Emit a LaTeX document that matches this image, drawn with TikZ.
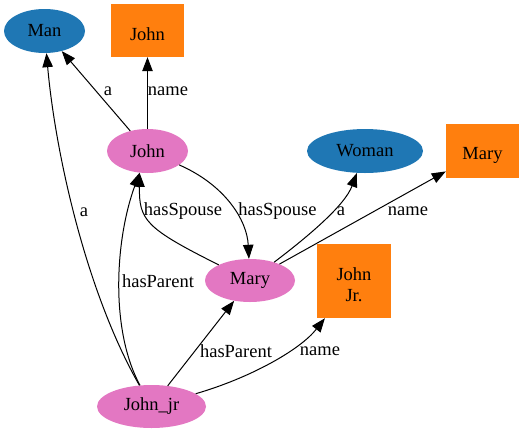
\documentclass[tikz,border=0pt]{standalone}
\usepackage{fontspec}
\setmainfont{Liberation Serif}
\usepackage{tikz}
\usetikzlibrary{arrows.meta,shapes.geometric}

\definecolor{clsblue}{HTML}{1F77B4}
\definecolor{instpink}{HTML}{E377C2}
\definecolor{litorange}{HTML}{FF7F0E}

\begin{document}
\begin{tikzpicture}[x=1pt,y=1pt,yscale=-1,xscale=1,
  font=\rmfamily\fontsize{18.5}{21}\selectfont,
  cls/.style={ellipse,fill=clsblue,inner sep=0pt,minimum height=44pt},
  inst/.style={ellipse,fill=instpink,inner sep=0pt,minimum height=43pt},
  lit/.style={rectangle,fill=litorange,inner sep=0pt,align=center},
  rel/.style={line width=1pt,-{Triangle[length=14pt,width=10.5pt]}},
  tag/.style={inner sep=0.75pt}]
\useasboundingbox (0,0) rectangle (524,434);

%Shape: Ellipse 
\node [cls,minimum width=81pt] (man) at (44.5,31) {Man};
%Shape: Ellipse 
\node [cls,minimum width=116pt] (woman) at (365,151) {Woman};
%Shape: Ellipse 
\node [inst,minimum width=81pt,minimum height=44pt] (john) at (147.5,151) {John};
%Shape: Ellipse 
\node [inst,minimum width=90pt] (mary) at (250,280.5) {Mary};
%Shape: Ellipse 
\node [inst,minimum width=109pt] (johnjr) at (151.5,406.5) {John\_jr};
%Shape: Rectangle 
\node [lit,minimum width=73pt,minimum height=53pt] (johnname) at (147.5,30.5) {\mbox{}\\John};
%Shape: Rectangle 
\node [lit,minimum width=73pt,minimum height=54pt] (maryname) at (482.5,151) {\mbox{}\\Mary};
%Shape: Rectangle 
\node [lit,minimum width=74pt,minimum height=74pt] (johnjrname) at (354,281) {\mbox{}\\John\\Jr.};

%Straight Lines 
\draw [rel] (john) -- (man);
%Straight Lines 
\draw [rel] (john) -- (johnname);
%Curve Lines 
\draw [rel] (johnjr) .. controls (85,290) and (55,150) .. (man);
%Curve Lines 
\draw [rel] (johnjr) .. controls (110,330) and (115,240) .. (john.250);
%Curve Lines 
\draw [rel] (john) .. controls (225,185) and (247,220) .. (mary);
%Curve Lines 
\draw [rel] (mary) .. controls (145,228) and (139,220) .. (john.250);
%Curve Lines 
\draw [rel] (mary) .. controls (310,235) and (345,205) .. (woman);
%Straight Lines 
\draw [rel] (mary) -- (maryname);
%Straight Lines 
\draw [rel] (johnjr) -- (mary);
%Curve Lines 
\draw [rel] (johnjr) .. controls (250,378) and (300,350) .. (johnjrname);

% Text Node
\node [tag] (tagjohna) at (108,91) {a};
% Text Node
\node [tag] (tagjohnname) at (168,91) {name};
% Text Node
\node [tag] (tagjrman) at (84,212) {a};
% Text Node
\node [tag] (tagjrjohn) at (158,281) {hasParent};
% Text Node
\node [tag] (tagmaryjohn) at (183,211) {hasSpouse};
% Text Node
\node [tag] (tagjohnmary) at (277.5,211) {hasSpouse};
% Text Node
\node [tag] (tagmarya) at (341,211) {a};
% Text Node
\node [tag] (tagmaryname) at (408,211) {name};
% Text Node
\node [tag] (tagjrmary) at (236,351) {hasParent};
% Text Node
\node [tag] (tagjrname) at (320,351) {name};

\end{tikzpicture}
\end{document}
